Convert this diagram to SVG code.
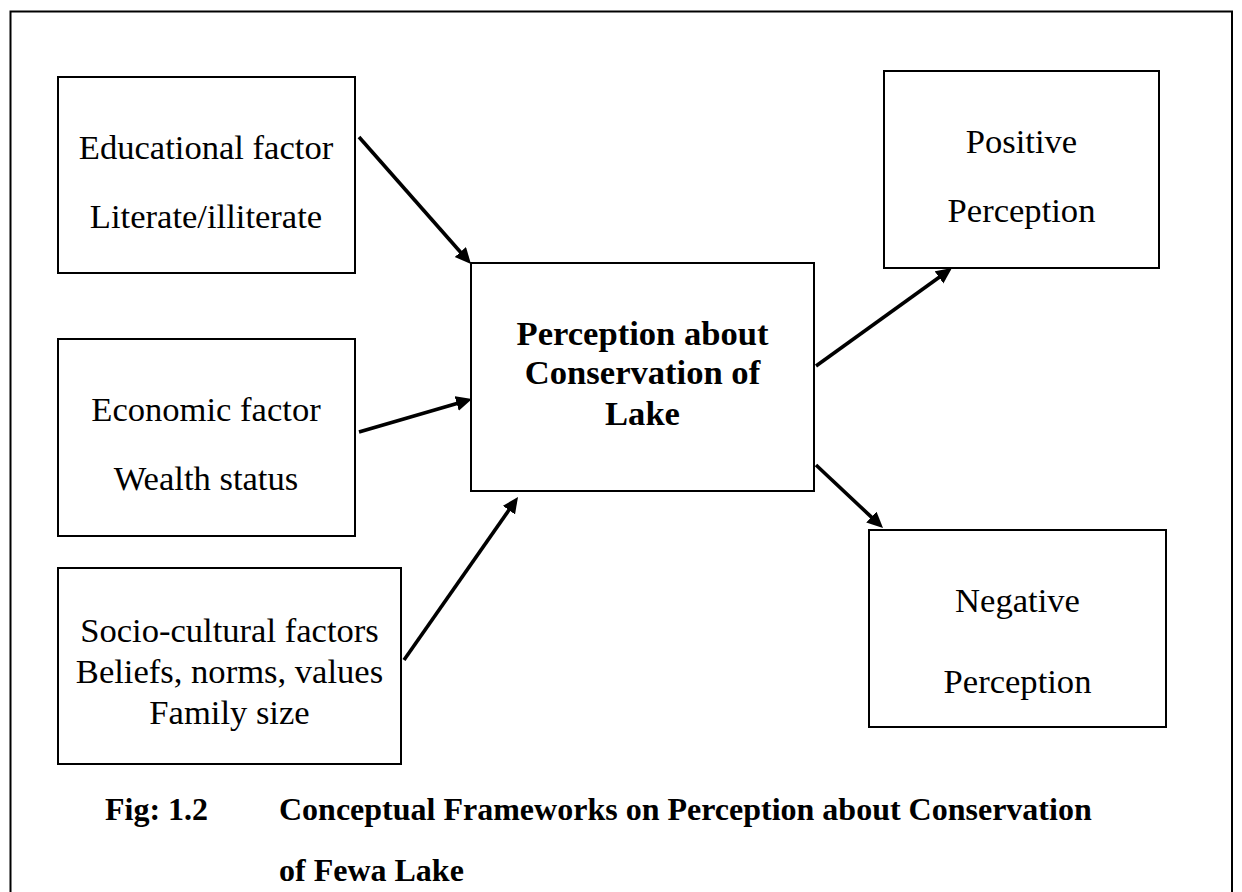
<svg xmlns="http://www.w3.org/2000/svg" width="1242" height="892" viewBox="0 0 1242 892">
<style>
.box{fill:#fff;stroke:#000;stroke-width:2}
.t{font-family:"Liberation Serif","Times New Roman",serif;font-size:34.6px;fill:#000;text-anchor:middle}
.b{font-weight:bold}
.cap{font-family:"Liberation Serif","Times New Roman",serif;font-size:32px;font-weight:bold;fill:#000}
.conn line{stroke:#000;stroke-width:3.6;fill:none;marker-end:url(#ah)}
</style>
<defs>
<marker id="ah" markerUnits="userSpaceOnUse" markerWidth="18" markerHeight="16" refX="2" refY="7.5" orient="auto">
<path d="M0,0 L16,7.5 L0,15 z" fill="#000"/>
</marker>
</defs>
<rect x="0" y="0" width="1242" height="892" fill="#fff"/>
<path d="M10.5,900 L10.5,11.5 L1232,11.5 L1232,900" fill="none" stroke="#000" stroke-width="2"/>
<g id="educational">
<rect class="box" x="58" y="77" width="297" height="196"/>
<text class="t" x="206" y="159">Educational factor</text>
<text class="t" x="206" y="228">Literate/illiterate</text>
</g>
<g id="economic">
<rect class="box" x="58" y="339" width="297" height="197"/>
<text class="t" x="206" y="421">Economic factor</text>
<text class="t" x="206" y="490">Wealth status</text>
</g>
<g id="sociocultural">
<rect class="box" x="58" y="568" width="343" height="196"/>
<text class="t" x="229.5" y="642">Socio-cultural factors</text>
<text class="t" x="229.5" y="683">Beliefs, norms, values</text>
<text class="t" x="229.5" y="724">Family size</text>
</g>
<g id="perception">
<rect class="box" x="471" y="263" width="343" height="228"/>
<text class="t b" x="642.5" y="345">Perception about</text>
<text class="t b" x="642.5" y="384">Conservation of</text>
<text class="t b" x="642.5" y="425">Lake</text>
</g>
<g id="positive">
<rect class="box" x="884" y="71" width="275" height="197"/>
<text class="t" x="1021.5" y="153">Positive</text>
<text class="t" x="1021.5" y="222">Perception</text>
</g>
<g id="negative">
<rect class="box" x="869" y="530" width="297" height="197"/>
<text class="t" x="1017.5" y="612">Negative</text>
<text class="t" x="1017.5" y="693">Perception</text>
</g>
<g id="connectors" class="conn">
<line x1="359" y1="137" x2="461.7" y2="253.5"/>
<line x1="359" y1="432" x2="458.6" y2="402.9"/>
<line x1="404" y1="660" x2="510" y2="508.5"/>
<line x1="816" y1="366" x2="940.6" y2="276.2"/>
<line x1="816" y1="465" x2="872.8" y2="518.4"/>
</g>
<g id="caption">
<text class="cap" x="105" y="820">Fig: 1.2</text>
<text class="cap" x="279" y="820">Conceptual Frameworks on Perception about Conservation</text>
<text class="cap" x="279" y="881">of Fewa Lake</text>
</g>
</svg>
